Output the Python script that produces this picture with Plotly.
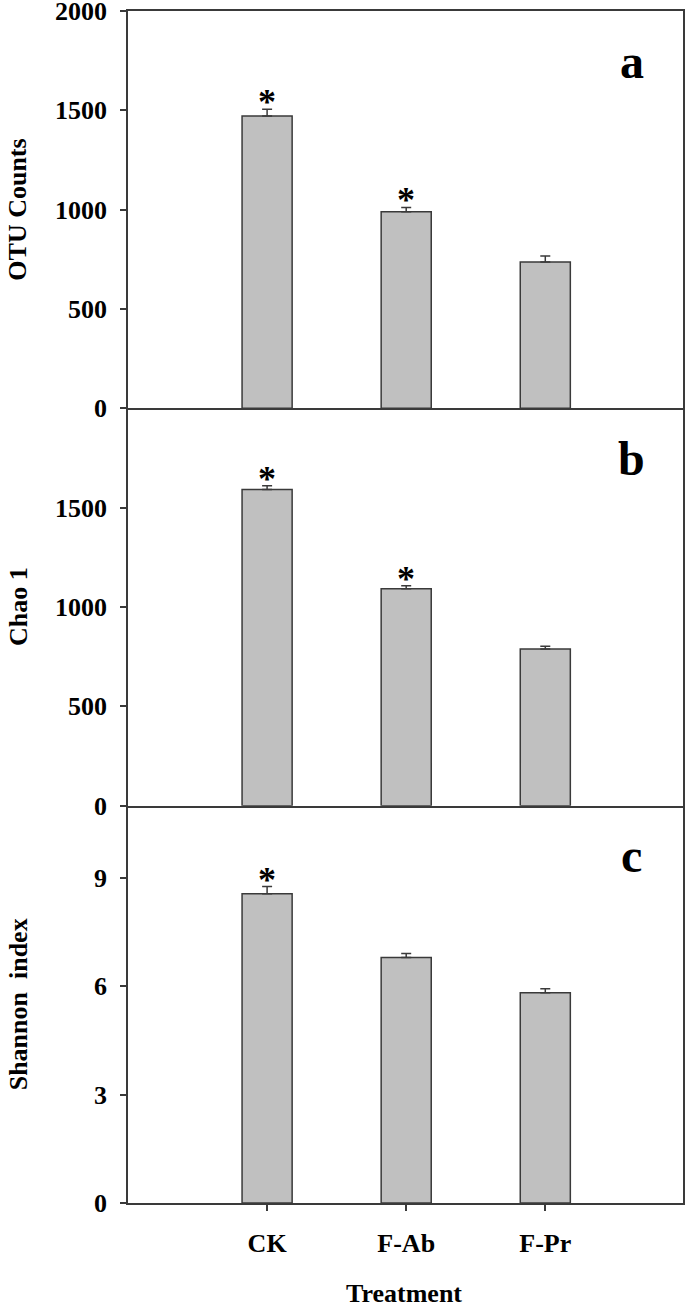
import plotly.graph_objects as go
from plotly.subplots import make_subplots

treatments = ["CK", "F-Ab", "F-Pr"]
x_pos = [1, 2, 3]

otu = [1471, 989, 737]
otu_err = [35, 22, 30]
chao = [1592, 1092, 789]
chao_err = [18, 15, 13]
shannon = [8.56, 6.80, 5.82]
shannon_err = [0.20, 0.11, 0.11]

otu_sig = ["*", "*", ""]
chao_sig = ["*", "*", ""]
shannon_sig = ["*", "", ""]

panel_labels = ["a", "b", "c"]
y_titles = ["OTU Counts", "Chao 1", "Shannon\u00a0\u00a0index"]
y_ranges = [[0, 2000], [0, 2000], [0, 11]]
y_ticks = [[0, 500, 1000, 1500, 2000], [0, 500, 1000, 1500], [0, 3, 6, 9]]

values = [otu, chao, shannon]
errors = [otu_err, chao_err, shannon_err]
sigs = [otu_sig, chao_sig, shannon_sig]

FONT = "Liberation Serif, Times New Roman, serif"
LINE = "#3a3a3a"


def ref(kind, r):
    return f"{kind}{'' if r == 1 else r}"


fig = make_subplots(rows=3, cols=1, shared_xaxes=True, vertical_spacing=0)

for i in range(3):
    r = i + 1
    fig.add_trace(
        go.Bar(
            x=x_pos, y=values[i], width=0.36,
            marker=dict(color="#c0c0c0", line=dict(color=LINE, width=1.5)),
            error_y=dict(type="data", array=errors[i], symmetric=False,
                         arrayminus=[0, 0, 0], color=LINE, thickness=1.5, width=5),
            showlegend=False,
        ),
        row=r, col=1,
    )
    for xp, v, e, s in zip(x_pos, values[i], errors[i], sigs[i]):
        if s:
            fig.add_annotation(
                x=xp, y=v + e, xref=ref("x", r), yref=ref("y", r),
                text=s, showarrow=False, yanchor="bottom", yshift=-15,
                font=dict(family=FONT, size=36, color="black", weight="bold"),
            )
    fig.add_annotation(
        x=0.908, y=0.874, xref=ref("x", r) + " domain", yref=ref("y", r) + " domain",
        text=panel_labels[i], showarrow=False,
        xanchor="center", yanchor="middle",
        font=dict(family=FONT, size=48, color="black", weight="bold"),
    )
    # y-axis title, placed near the left edge of the figure
    fig.add_annotation(
        x=0, y=0.5, xref="paper", yref=ref("y", r) + " domain",
        xanchor="center", yanchor="middle", xshift=-110, borderpad=0,
        text=y_titles[i], textangle=-90, showarrow=False,
        font=dict(family=FONT, size=26, color="black", weight="bold"),
    )
    fig.update_yaxes(
        range=y_ranges[i], tickvals=y_ticks[i],
        showline=True, linecolor=LINE, linewidth=1.5, mirror=True,
        ticks="outside", ticklen=6, tickcolor=LINE, tickwidth=1.5,
        ticklabelstandoff=8, ticklabeloverflow="allow",
        showgrid=False, zeroline=False, automargin=False,
        tickfont=dict(family=FONT, size=26, color="black", weight="bold"),
        row=r, col=1,
    )
    fig.update_xaxes(
        range=[0, 3.99],
        showline=True, linecolor=LINE, linewidth=1.5, mirror=(r == 1),
        showgrid=False, zeroline=False, automargin=False,
        row=r, col=1,
    )

fig.update_xaxes(
    tickvals=x_pos, ticktext=treatments,
    ticks="outside", ticklen=6, tickcolor=LINE, tickwidth=1.5,
    ticklabelstandoff=10,
    tickfont=dict(family=FONT, size=26, color="black", weight="bold"),
    showticklabels=True,
    row=3, col=1,
)

fig.add_annotation(
    x=0.497, y=0, xref="x3 domain", yref="paper",
    xanchor="center", yanchor="top", yshift=-74,
    text="Treatment", showarrow=False,
    font=dict(family=FONT, size=26, color="black", weight="bold"),
)

fig.update_layout(
    width=685, height=1307,
    margin=dict(l=128, r=2, t=11, b=104),
    paper_bgcolor="white", plot_bgcolor="white",
)

fig.write_html(
    "out.html",
    config={"displayModeBar": False},
    post_script="document.body.style.margin='0';document.body.style.overflow='hidden';",
)
